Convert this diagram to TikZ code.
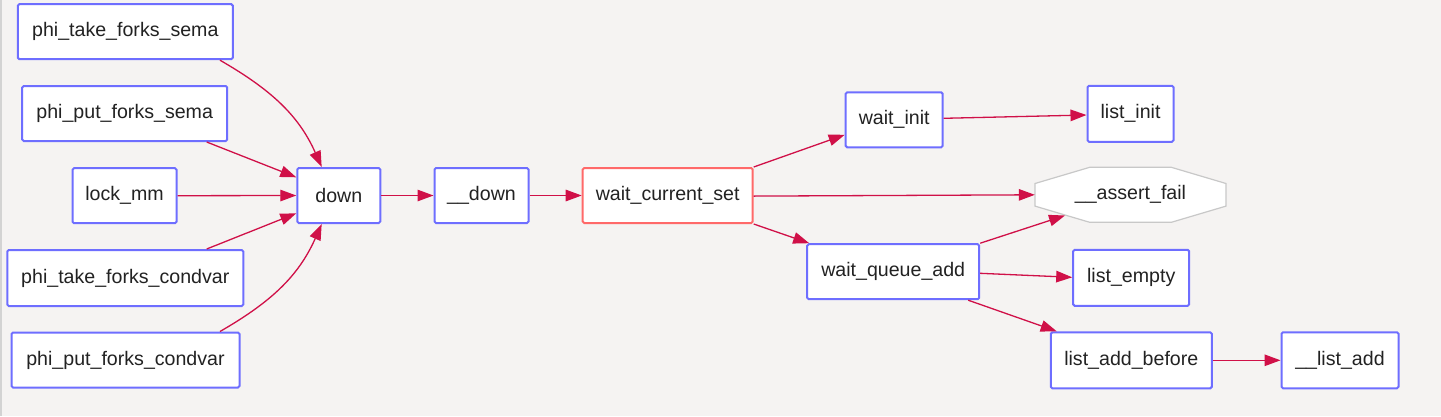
\documentclass[tikz,border=0pt]{standalone}
\usepackage{fontspec}
\setmainfont{Liberation Sans}
\usetikzlibrary{arrows.meta}
\definecolor{bgc}{RGB}{245,243,242}
\definecolor{boxblue}{RGB}{110,110,255}
\definecolor{boxred}{RGB}{255,105,105}
\definecolor{edgec}{RGB}{208,16,72}
\definecolor{octgray}{RGB}{200,200,200}
\definecolor{txt}{RGB}{34,34,34}
\tikzset{
  fn/.style={draw=boxblue, line width=2pt, fill=white, rounded corners=1.5pt,
    minimum height=55pt, inner sep=0pt, text=txt,
    font=\fontsize{19.6}{23}\selectfont},
  fnred/.style={fn, draw=boxred},
  plain/.style={inner sep=0pt, text=txt, font=\fontsize{19.6}{23}\selectfont,
    minimum height=55pt},
  edge/.style={draw=edgec, line width=1.3pt, -{Triangle[length=16pt,width=11.5pt]}},
}
\begin{document}
\begin{tikzpicture}[x=1pt,y=-1pt]
\fill[bgc] (0,0) rectangle (1441,416);
\useasboundingbox (0,0) rectangle (1441,416);
\draw[octgray!80, line width=1.5pt] (1,0) -- (1,416);

\node[fn, minimum width=215pt] (ptfs) at (125.3,31.7) {phi\_take\_forks\_sema};
\node[fn, minimum width=205pt] (ppfs) at (124.7,113.5) {phi\_put\_forks\_sema};
\node[fn, minimum width=104pt] (lock) at (124.5,195.7) {lock\_mm};
\node[fn, minimum width=236pt, minimum height=56pt] (ptfc) at (125.3,278) {phi\_take\_forks\_condvar};
\node[fn, minimum width=228pt] (ppfc) at (125.5,360) {phi\_put\_forks\_condvar};
\node[fn, minimum width=83pt] (down) at (338.8,195.5) {down};
\node[fn, minimum width=94pt] (udown) at (481.5,195.5) {\_\_down};
\node[fnred, minimum width=170pt] (wcs) at (667.7,195.5) {wait\_current\_set};
\node[fn, minimum width=97pt] (winit) at (894.2,119.8) {wait\_init};
\node[fn, minimum width=86pt, minimum height=56pt] (linit) at (1130.5,113.8) {list\_init};
\node[fn, minimum width=172pt] (wqa) at (893.2,271.7) {wait\_queue\_add};
\node[fn, minimum width=116pt, minimum height=56pt] (lempty) at (1131.2,277.8) {list\_empty};
\node[fn, minimum width=161pt, minimum height=56pt] (lab) at (1131.3,360.3) {list\_add\_before};
\node[fn, minimum width=117pt, minimum height=56pt] (ladd) at (1340,360.3) {\_\_list\_add};

% octagon node
\coordinate (afc) at (1130.5,194.8);
\fill[white, draw=octgray, line width=1.2pt]
  ([xshift=-40.8pt,yshift=27.5pt]afc) -- ([xshift=40.8pt,yshift=27.5pt]afc)
  -- ([xshift=95.5pt,yshift=11.3pt]afc) -- ([xshift=95.5pt,yshift=-11.3pt]afc)
  -- ([xshift=40.8pt,yshift=-27.5pt]afc) -- ([xshift=-40.8pt,yshift=-27.5pt]afc)
  -- ([xshift=-95.5pt,yshift=-11.3pt]afc) -- ([xshift=-95.5pt,yshift=11.3pt]afc) -- cycle;
\node[plain, minimum width=191pt] (af) at (afc) {\_\_assert\_fail};
\coordinate (afin) at ([xshift=-65.5pt,yshift=-20.7pt]af.center);

% edges
\draw[edge] ([xshift=94.7pt]ptfs.south) to[out=-30,in=114] ([xshift=-17.1pt]down.north);
\draw[edge] ([xshift=82pt]ppfs.south) -- ([yshift=18.2pt]down.west);
\draw[edge] (lock.east) -- (down.west);
\draw[edge] ([xshift=81.4pt]ptfc.north) -- ([yshift=-17.8pt]down.west);
\draw[edge] ([xshift=94.5pt]ppfc.north) to[out=30,in=-114] ([xshift=-17.1pt]down.south);
\draw[edge] (down.east) -- (udown.west);
\draw[edge] (udown.east) -- (wcs.west);
\draw[edge] (wcs.north east) -- ([yshift=-15pt]winit.west);
\draw[edge] ([yshift=1.5pt]winit.east) -- ([yshift=-1.2pt]linit.west);
\draw[edge] ([yshift=-0.6pt]wcs.east) -- (af.west);
\draw[edge] (wcs.south east) -- ([xshift=3pt]wqa.north west);
\draw[edge] (wqa.north east) -- (afin);
\draw[edge] ([yshift=-1.6pt]wqa.east) -- ([yshift=0.5pt]lempty.west);
\draw[edge] ([xshift=75pt]wqa.south) -- ([xshift=-74.6pt]lab.north);
\draw[edge] (lab.east) -- (ladd.west);
\end{tikzpicture}
\end{document}
